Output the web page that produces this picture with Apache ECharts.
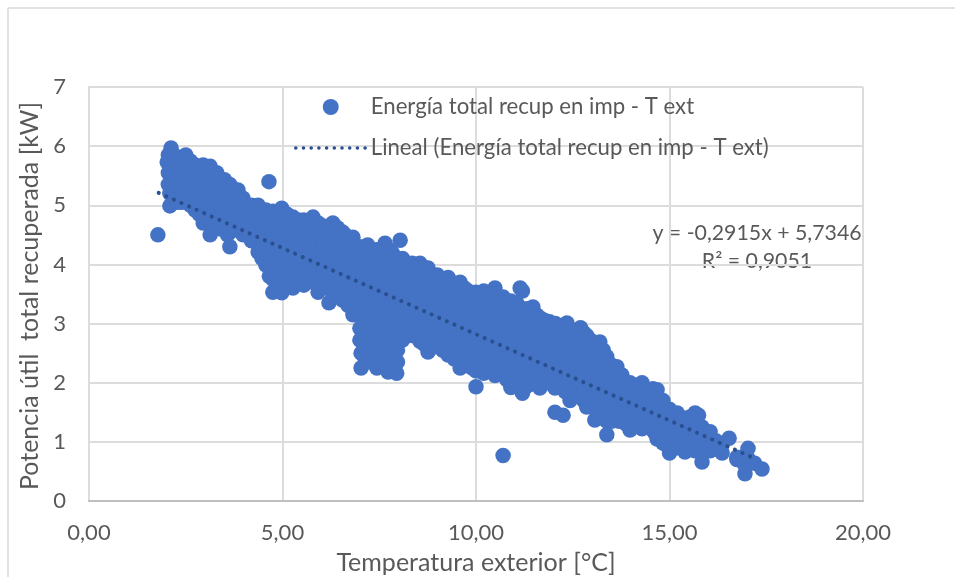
<!DOCTYPE html>
<html><head><meta charset="utf-8">
<script src="https://cdn.jsdelivr.net/npm/echarts@6/dist/echarts.min.js"></script>
<style>html,body{margin:0;padding:0;background:#fff}#c{width:955px;height:577px}</style>
</head><body><div id="c"></div>
<script>
// Each row: temperature, then the power readings seen at that temperature
const bandCold = [
[1.78,4.5],
[2.02,5.73],[2.05,5.35,5.55,5.85],[2.09,4.99,5.2],[2.12,5.97,5.75],
[2.3,5.05,5.25,5.45,5.65,5.8],
[2.5,5.15,5.35,5.55,5.72,5.85],
[2.74,4.92,5.1,5.3,5.5,5.68],
[2.95,4.7,4.9,5.1,5.3,5.5,5.68],
[3.13,4.5,4.72,4.92,5.12,5.32,5.52,5.66],
[3.3,4.75,4.95,5.15,5.35,5.55],
[3.5,4.65,4.85,5.05,5.25,5.43],
[3.64,4.3,4.55,4.75,4.95,5.15,5.35],
[3.85,4.58,4.78,4.98,5.18,5.26],
[3.98,4.5,4.7,4.9,5.12],
[4.2,4.4,4.6,4.8,5.0],
[4.37,4.21,4.45,4.65,4.85,5.0],
[4.57,3.99,4.2,4.4,4.6,4.8,4.92],
[4.65,5.4],
[4.75,3.53,3.75,3.95,4.15,4.35,4.55,4.75,4.9],
[4.98,3.52,3.7,3.9,4.1,4.3,4.5,4.7,4.95],
[5.27,3.6,3.8,4.0,4.2,4.4,4.6,4.8],
[5.55,3.65,3.85,4.05,4.25,4.45,4.65,4.75],
[5.79,3.7,3.9,4.1,4.3,4.5,4.8],
[5.92,3.53,3.75,3.95,4.15,4.35,4.55,4.7],
[6.2,3.35,3.6,3.8,4.0,4.2,4.4,4.6],
[6.3,3.5,3.7,3.9,4.1,4.3,4.5,4.7],
[6.55,3.4,3.6,3.8,4.0,4.2,4.4,4.55],
[6.69,3.31,3.5,3.7,3.9,4.1,4.3,4.45],
[6.82,3.15,3.35,3.55,3.75,3.95,4.15,4.35,4.46]
];
const bandMiddle = [
[7.0,2.72,2.92,3.12,3.32,3.52,3.72,3.92,4.12,4.3],
[7.03,2.25,2.5],
[7.2,2.35,2.55,2.75,2.95,3.15,3.35,3.55,3.75,3.95,4.15,4.33],
[7.44,2.25,2.45,2.65,2.85,3.05,3.25,3.45,3.65,3.85,4.05,4.25],
[7.65,2.35,2.55,2.75,2.95,3.15,3.35,3.55,3.75,3.95,4.15,4.36],
[7.73,2.18,2.4],
[7.83,2.43,2.65,2.85,3.05,3.25,3.45,3.65,3.85,4.05,4.2],
[7.95,2.16],
[8.04,4.41],
[8.1,2.72,2.9,3.1,3.3,3.5,3.7,3.9,4.1],
[8.35,2.8,3.0,3.2,3.4,3.6,3.8,4.02],
[8.55,2.7,2.9,3.1,3.3,3.5,3.7,3.9,4.02],
[8.76,2.52,2.75,2.95,3.15,3.35,3.55,3.75,3.94],
[9.0,2.65,2.85,3.05,3.25,3.45,3.65,3.82],
[9.28,2.47,2.7,2.9,3.1,3.3,3.5,3.7,3.78],
[9.59,2.25,2.45,2.65,2.85,3.05,3.25,3.45,3.7],
[9.8,2.35,2.55,2.75,2.95,3.15,3.35,3.55],
[10.0,1.93,2.2,2.4,2.6,2.8,3.0,3.2,3.4,3.53],
[10.2,2.16,2.35,2.55,2.75,2.95,3.15,3.35,3.55],
[10.49,2.12,2.3,2.5,2.7,2.9,3.1,3.3,3.6],
[10.7,2.2,2.4,2.6,2.8,3.0,3.2,3.45],
[10.7,0.77],
[10.9,1.92,2.15,2.35,2.55,2.75,2.95,3.15,3.38],
[11.14,3.6],[11.2,1.82,2.05,2.25,2.45,2.65,2.85,3.05,3.25,3.55],
[11.47,2.0,2.2,2.4,2.6,2.8,3.0,3.28],
[11.65,1.91,2.1,2.3,2.5,2.7,2.9,3.1],
[11.9,2.0,2.2,2.4,2.6,2.8,3.03],
[12.04,1.5,1.91],[12.25,1.45]
];
const bandWarm = [
[12.2,1.95,2.15,2.35,2.55,2.75,2.95],
[12.35,3.01],[12.43,1.7,1.9,2.1,2.3,2.5,2.7,2.9],
[12.7,1.75,1.95,2.15,2.35,2.55,2.75,2.93],
[12.86,1.59,1.8,2.0,2.2,2.4,2.6,2.8],
[13.07,1.37,1.65,1.85,2.05,2.25,2.45,2.65],
[13.2,1.5,1.7,1.9,2.1,2.3,2.5,2.69],
[13.38,1.12,1.35,1.55,1.75,1.95,2.15,2.44],
[13.64,1.45,1.65,1.85,2.05,2.27],
[13.77,1.6,1.8,2.0,2.13],
[13.98,1.2,1.4,1.6,1.8,2.0],
[14.29,1.22,1.42,1.62,1.82,2.0],
[14.57,1.2,1.4,1.6,1.8,1.9],
[14.68,1.05,1.25,1.45,1.65,1.88],
[14.83,0.98,1.2,1.4,1.7],
[15.0,0.81,1.0,1.2,1.4,1.55],
[15.2,0.9,1.1,1.3,1.49],
[15.4,0.83,1.05,1.25,1.4],
[15.66,0.85,1.05,1.25,1.49],
[15.75,1.45],
[15.84,0.66,0.88,1.08,1.25],
[16.05,0.85,1.0,1.17],
[16.36,0.81,0.95],
[16.54,1.06],
[16.74,0.7,0.74],[16.9,0.75],[16.95,0.46,0.6],[17.03,0.72,0.89],[17.2,0.64],[17.39,0.54]
];
const bandCore = [
[2.2,5.15,5.35,5.6,5.85],[2.4,5.05,5.25,5.45,5.65,5.75],[2.62,5.0,5.2,5.4,5.6,5.75],
[2.85,4.85,5.0,5.2,5.4,5.6],[3.05,4.8,5.0,5.2,5.4,5.6],[3.22,4.62,4.85,5.05,5.25,5.45],
[3.4,4.6,4.8,5.0,5.2,5.4],[3.58,4.5,4.7,4.9,5.1,5.3],[3.75,4.65,4.85,5.05,5.25],
[3.92,4.65,4.85,5.05],[4.1,4.5,4.7,4.9],[4.28,4.4,4.55,4.75,4.95],
[4.47,4.1,4.3,4.5,4.7,4.9],[4.66,3.8,4.0,4.2,4.4,4.6,4.8],
[4.87,3.65,3.85,4.05,4.25,4.45,4.65,4.82],[5.12,3.65,3.85,4.05,4.25,4.45,4.65,4.85],
[5.41,3.75,3.95,4.15,4.35,4.55,4.75],[5.67,3.75,3.95,4.15,4.35,4.55,4.7],
[6.06,3.65,3.85,4.05,4.25,4.45,4.65],[6.42,3.45,3.65,3.85,4.05,4.25,4.45,4.62],
[6.62,3.5,3.7,3.9,4.1,4.3,4.5],[6.75,3.4,3.6,3.8,4.0,4.2,4.4],
[6.9,3.25,3.45,3.65,3.85,4.05,4.25],
[7.1,2.45,2.65,2.85,3.05,3.25,3.45,3.65,3.85,4.05,4.25],
[7.32,2.35,2.55,2.75,2.95,3.15,3.35,3.55,3.75,3.95,4.15,4.25],
[7.55,2.35,2.55,2.75,2.95,3.15,3.35,3.55,3.75,3.95,4.15,4.25],
[7.75,2.3,2.5,2.7,2.9,3.1,3.3,3.5,3.7,3.9,4.1,4.25],
[7.97,2.35,2.55,2.75,2.95,3.15,3.35,3.55,3.75,3.95,4.1],
[8.22,2.85,3.05,3.25,3.45,3.65,3.85,4.0],[8.45,2.8,3.0,3.2,3.4,3.6,3.8,3.95],
[8.66,2.65,2.85,3.05,3.25,3.45,3.65,3.85,3.95],[8.88,2.6,2.8,3.0,3.2,3.4,3.6,3.8],
[9.14,2.55,2.75,2.95,3.15,3.35,3.55,3.72],[9.44,2.4,2.6,2.8,3.0,3.2,3.4,3.6],
[9.7,2.3,2.5,2.7,2.9,3.1,3.3,3.5,3.6],[9.9,2.25,2.45,2.65,2.85,3.05,3.25,3.45],
[10.1,2.25,2.45,2.65,2.85,3.05,3.25,3.45],[10.35,2.2,2.4,2.6,2.8,3.0,3.2,3.4,3.5],
[10.6,2.15,2.35,2.55,2.75,2.95,3.15,3.35],[10.8,2.05,2.25,2.45,2.65,2.85,3.05,3.25],
[11.05,2.0,2.2,2.4,2.6,2.8,3.0,3.2,3.35],[11.33,1.95,2.15,2.35,2.55,2.75,2.95,3.15,3.25],
[11.56,2.0,2.2,2.4,2.6,2.8,3.0,3.15],[11.78,2.0,2.15,2.35,2.55,2.75,2.95,3.05],
[12.05,2.05,2.25,2.45,2.65,2.85,3.0],[12.3,1.85,2.05,2.25,2.45,2.65,2.85,2.98],
[12.57,1.85,2.05,2.25,2.45,2.65,2.85],[12.78,1.7,1.9,2.1,2.3,2.5,2.7,2.85],
[12.96,1.6,1.8,2.0,2.2,2.4,2.6,2.72],[13.13,1.55,1.75,1.95,2.15,2.35,2.55],
[13.29,1.4,1.6,1.8,2.0,2.2,2.4,2.55],[13.5,1.35,1.55,1.75,1.95,2.15,2.3],
[13.7,1.35,1.55,1.75,1.95,2.1],[13.88,1.3,1.5,1.7,1.9,2.0],[14.13,1.3,1.5,1.7,1.9],
[14.43,1.3,1.5,1.7,1.88],[14.62,1.15,1.35,1.55,1.75],[14.75,1.1,1.3,1.5,1.7],
[14.92,0.95,1.1,1.3,1.5],[15.1,0.95,1.15,1.35,1.45],[15.3,0.95,1.15,1.35],
[15.53,0.95,1.15,1.35,1.42],[15.72,0.9,1.15,1.3],[15.95,0.85,1.05,1.15],[16.2,0.88,1.02]
];
const trendTemps = [1.8, 17.2];
const trendPower = [5.21, 0.72];
const xTickLabels = ['0,00','5,00','10,00','15,00','20,00'];
const yTickLabels = ['0','1','2','3','4','5','6','7'];
const seriesName = 'Energía total recup en imp - T ext';
const trendName = 'Lineal (Energía total recup en imp - T ext)';
const equationLines = ['y = -0,2915x + 5,7346','R² = 0,9051'];

const toPoints = rows => rows.flatMap(r => r.slice(1).map(y => [r[0], y]));
const points = [...toPoints(bandCold), ...toPoints(bandMiddle), ...toPoints(bandWarm), ...toPoints(bandCore)];
const FONT = 'Lato';
const TXT = '#595959';
const GRID = '#dcdcdc';
const DOT = '#2a4f8f';
const chart = echarts.init(document.getElementById('c'), null, {renderer:'canvas'});
chart.setOption({
  animation:false,
  backgroundColor:'#fff',
  textStyle:{fontFamily:FONT,color:TXT},
  grid:{left:89,right:92,top:87,bottom:76,show:false,outerBoundsMode:'none'},
  legend:{
    left:289,top:91,orient:'vertical',itemWidth:70,itemHeight:16,itemGap:19,
    textStyle:{fontFamily:FONT,fontSize:22.2,color:TXT},
    data:[
      {name:seriesName,icon:'circle'},
      {name:trendName,itemStyle:{color:'transparent',borderWidth:0},
       lineStyle:{color:DOT,width:3.5,type:[0.1,7.6],cap:'round',opacity:1}}
    ]
  },
  xAxis:{
    type:'value',min:0,max:20,interval:5,
    name:'Temperatura exterior [°C]',nameLocation:'middle',nameGap:49,
    nameTextStyle:{fontFamily:FONT,fontSize:25,color:TXT},
    axisLine:{show:true,lineStyle:{color:'#bfbfbf',width:2}},
    axisTick:{show:false},
    axisLabel:{margin:21,fontFamily:FONT,fontSize:22,color:TXT,formatter:(v)=>xTickLabels[v/5]},
    splitLine:{show:true,lineStyle:{color:GRID,width:2}}
  },
  yAxis:{
    type:'value',min:0,max:7,interval:1,
    name:'Potencia útil  total recuperada [kW]',nameLocation:'middle',nameGap:46,
    nameTextStyle:{fontFamily:FONT,fontSize:25,color:TXT,padding:[0,4,0,0]},
    axisLine:{show:true,onZero:false,lineStyle:{color:GRID,width:2}},
    axisTick:{show:false},
    axisLabel:{margin:23,fontFamily:FONT,fontSize:22,color:TXT,formatter:(v)=>yTickLabels[v]},
    splitLine:{show:true,lineStyle:{color:GRID,width:2}}
  },
  series:[
    {name:seriesName,type:'scatter',data:points,symbol:'circle',symbolSize:15.5,
     itemStyle:{color:'#4472c4',opacity:1},z:3},
    {name:trendName,type:'line',data:trendTemps.map((x,i)=>[x,trendPower[i]]),showSymbol:false,symbol:'none',
     itemStyle:{color:DOT},
     lineStyle:{color:DOT,width:4,type:[0.1,8.2],cap:'round',opacity:1},z:4}
  ],
  graphic:[
    {type:'line',silent:true,shape:{x1:8,y1:8,x2:955,y2:8},style:{stroke:'#d9d9d9',lineWidth:1.5}},
    {type:'line',silent:true,shape:{x1:8,y1:8,x2:8,y2:577},style:{stroke:'#d9d9d9',lineWidth:1.5}},
    {type:'text',silent:true,x:757,y:233,style:{text:equationLines[0],fontFamily:FONT,fontSize:21.3,fill:TXT,align:'center',verticalAlign:'middle'}},
    {type:'text',silent:true,x:757,y:261,style:{text:equationLines[1],fontFamily:FONT,fontSize:21.3,fill:TXT,align:'center',verticalAlign:'middle'}}
  ]
});
</script></body></html>
